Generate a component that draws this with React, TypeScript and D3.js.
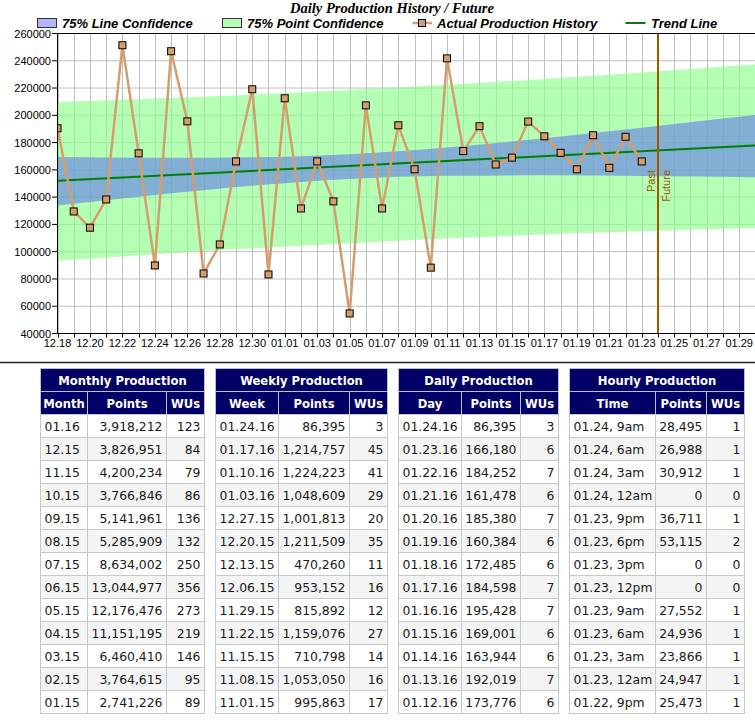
import React from "react";
import * as d3 from "d3";

// daily production history (points per day)
const days = [
  "12.18", "12.19", "12.20", "12.21", "12.22", "12.23", "12.24", "12.25", "12.26", "12.27",
  "12.28", "12.29", "12.30", "12.31", "01.01", "01.02", "01.03", "01.04", "01.05", "01.06",
  "01.07", "01.08", "01.09", "01.10", "01.11", "01.12", "01.13", "01.14", "01.15", "01.16",
  "01.17", "01.18", "01.19", "01.20", "01.21", "01.22", "01.23",
];
const points = [
  190500, 129500, 117600, 138300, 251400, 172100, 89900, 247000, 195600, 84000,
  105300, 166200, 219100, 83300, 212500, 131700, 166200, 136900, 54700, 207300,
  131700, 192700, 160400, 88300, 241755, 173776, 192019, 163944, 169001, 195428,
  184598, 172485, 160384, 185380, 161478, 184252, 166180,
];

// confidence bands, read at a few dates
const bandDays = ["12.18", "12.24", "12.30", "01.05", "01.11", "01.17", "01.23", "01.30"];
const lineUpper = [169350, 168830, 169200, 171460, 176400, 183230, 190950, 200200];
const lineLower = [133850, 141570, 148400, 153340, 155600, 155970, 155450, 154600];
const pointUpper = [209800, 212260, 215170, 218540, 222370, 226660, 231400, 237450];
const pointLower = [93400, 98140, 102430, 106260, 109630, 112540, 115000, 117350];

const trendDays = ["12.18", "01.30"];
const trendValues = [152000, 177900];
const nowDay = "01.24";
const firstDay = "12.18";
const lastDay = "01.30";
const yTicks = [40000, 60000, 80000, 100000, 120000, 140000, 160000, 180000, 200000, 220000, 240000, 260000];

// tables
const months = ["01.16", "12.15", "11.15", "10.15", "09.15", "08.15", "07.15", "06.15", "05.15", "04.15", "03.15", "02.15", "01.15"];
const monthlyPoints = [3918212, 3826951, 4200234, 3766846, 5141961, 5285909, 8634002, 13044977, 12176476, 11151195, 6460410, 3764615, 2741226];
const monthlyWUs = [123, 84, 79, 86, 136, 132, 250, 356, 273, 219, 146, 95, 89];

const weeks = ["01.24.16", "01.17.16", "01.10.16", "01.03.16", "12.27.15", "12.20.15", "12.13.15", "12.06.15", "11.29.15", "11.22.15", "11.15.15", "11.08.15", "11.01.15"];
const weeklyPoints = [86395, 1214757, 1224223, 1048609, 1001813, 1211509, 470260, 953152, 815892, 1159076, 710798, 1053050, 995863];
const weeklyWUs = [3, 45, 41, 29, 20, 35, 11, 16, 12, 27, 14, 16, 17];

const dailyDays = ["01.24.16", "01.23.16", "01.22.16", "01.21.16", "01.20.16", "01.19.16", "01.18.16", "01.17.16", "01.16.16", "01.15.16", "01.14.16", "01.13.16", "01.12.16"];
const dailyPoints = [86395, 166180, 184252, 161478, 185380, 160384, 172485, 184598, 195428, 169001, 163944, 192019, 173776];
const dailyWUs = [3, 6, 7, 6, 7, 6, 6, 7, 7, 6, 6, 7, 6];

const hours = ["01.24, 9am", "01.24, 6am", "01.24, 3am", "01.24, 12am", "01.23, 9pm", "01.23, 6pm", "01.23, 3pm", "01.23, 12pm", "01.23, 9am", "01.23, 6am", "01.23, 3am", "01.23, 12am", "01.22, 9pm"];
const hourlyPoints = [28495, 26988, 30912, 0, 36711, 53115, 0, 0, 27552, 24936, 23866, 24947, 25473];
const hourlyWUs = [1, 1, 1, 0, 1, 2, 0, 0, 1, 1, 1, 1, 1];

const parseDay = (s: string) => {
  const [m, d] = s.split(".").map(Number);
  return new Date(m === 12 ? 2015 : 2016, m - 1, d);
};

const fmt = d3.format(",");
const SANS = "'Liberation Sans', Arial, sans-serif";
const VERDANA = "'DejaVu Sans', Verdana, sans-serif";

interface TableProps {
  edges: number[];
  title: string;
  headers: string[];
  labels: string[];
  values: number[];
  wus: number[];
}

const ProdTable: React.FC<TableProps> = ({ edges, title, headers, labels, values, wus }) => {
  const top = 368.5;
  const rowH = 23;
  const x0 = edges[0];
  const x1 = edges[edges.length - 1];
  const rows = labels.map((l, i) => [l, fmt(values[i]), String(wus[i])]);
  return (
    <g>
      <rect x={x0} y={top} width={x1 - x0} height={rowH} fill="#000066" stroke="#c0c0c0" />
      <text x={(x0 + x1) / 2} y={top + 16.5} textAnchor="middle" fill="#fff" fontWeight="bold" fontSize={11.6} fontFamily={VERDANA}>
        {title}
      </text>
      {headers.map((h, j) => (
        <g key={h}>
          <rect x={edges[j]} y={top + rowH} width={edges[j + 1] - edges[j]} height={rowH} fill="#000066" stroke="#c0c0c0" />
          <text x={(edges[j] + edges[j + 1]) / 2} y={top + rowH + 16.5} textAnchor="middle" fill="#fff" fontWeight="bold" fontSize={11.6} fontFamily={VERDANA}>
            {h}
          </text>
        </g>
      ))}
      {rows.map((r, i) => {
        const ry = top + rowH * (i + 2);
        return (
          <g key={i}>
            {r.map((c, j) => (
              <g key={j}>
                <rect x={edges[j]} y={ry} width={edges[j + 1] - edges[j]} height={rowH} fill={i % 2 ? "#f4f4f4" : "#ffffff"} stroke="#c8c8c8" />
                <text
                  x={j === 0 ? edges[j] + 4 : edges[j + 1] - 4}
                  y={ry + 16.8}
                  textAnchor={j === 0 ? "start" : "end"}
                  fill="#1a1a1a"
                  fontSize={12.4}
                  fontFamily={VERDANA}
                >
                  {c}
                </text>
              </g>
            ))}
          </g>
        );
      })}
    </g>
  );
};

export default function App() {
  const W = 755;
  const H = 720;
  const plotLeft = 57.5;
  const plotTop = 33.5;
  const plotBottom = 333.5;

  const x = d3
    .scaleTime()
    .domain([parseDay(firstDay), parseDay(lastDay)])
    .range([plotLeft, plotLeft + 43 * 16.23]);
  const y = d3.scaleLinear().domain([40000, 260000]).range([plotBottom, plotTop]);

  const allDays = d3.timeDay.range(parseDay(firstDay), d3.timeDay.offset(parseDay(lastDay), 1));
  const labelDays = d3.timeDay.range(parseDay(firstDay), parseDay(lastDay), 2);
  const fmtDay = d3.timeFormat("%m.%d");

  const band = (upper: number[], lower: number[]) =>
    d3
      .area<number>()
      .x((i) => x(parseDay(bandDays[i])))
      .y0((i) => y(lower[i]))
      .y1((i) => y(upper[i]))
      .curve(d3.curveMonotoneX)(bandDays.map((_, i) => i)) || "";

  const prodLine =
    d3
      .line<number>()
      .x((i) => x(parseDay(days[i])))
      .y((i) => y(points[i]))(days.map((_, i) => i)) || "";

  const trendLine =
    d3
      .line<number>()
      .x((i) => x(parseDay(trendDays[i])))
      .y((i) => y(trendValues[i]))(trendDays.map((_, i) => i)) || "";

  const xNow = x(parseDay(nowDay));
  const brown = "#9e5800";
  const tan = "#d49e6c";

  return (
    <>
      <style>{"body{margin:0}"}</style>
      <svg width={W} height={H} style={{ display: "block" }}>
        <defs>
          <clipPath id="plot">
            <rect x={plotLeft} y={plotTop} width={W - plotLeft} height={plotBottom - plotTop} />
          </clipPath>
        </defs>
        <rect width={W} height={H} fill="#fff" />

        <g clipPath="url(#plot)">
          {allDays.map((d) => (
            <line key={+d} x1={Math.round(x(d)) + 0.5} x2={Math.round(x(d)) + 0.5} y1={plotTop} y2={plotBottom} stroke="#c0c0c0" />
          ))}
          {yTicks.map((t) => (
            <line key={t} x1={plotLeft} x2={W} y1={y(t)} y2={y(t)} stroke="#c0c0c0" />
          ))}
          <path d={band(pointUpper, pointLower)} fill="#8cff8c" fillOpacity={0.65} />
          <path d={band(lineUpper, lineLower)} fill="#6a84e6" fillOpacity={0.65} />
          <path d={trendLine} fill="none" stroke="#008000" strokeWidth={2} />
          <path d={prodLine} fill="none" stroke={tan} strokeWidth={2.5} />
          {days.map((d, i) => (
            <rect key={d} x={x(parseDay(d)) - 3.5} y={y(points[i]) - 3.5} width={7} height={7} fill={tan} stroke="#000" strokeWidth={1} />
          ))}
          <line x1={xNow} x2={xNow} y1={plotTop} y2={plotBottom} stroke={brown} strokeWidth={2} />
        </g>

        <text transform={`translate(${xNow - 3},170) rotate(-90)`} textAnchor="end" fill={brown} fontSize={11} fontFamily={SANS}>
          Past
        </text>
        <text transform={`translate(${xNow + 12},170) rotate(-90)`} textAnchor="end" fill={brown} fontSize={11} fontFamily={SANS}>
          Future
        </text>

        {/* axes */}
        <line x1={52} x2={W} y1={plotTop} y2={plotTop} stroke="#000" />
        <line x1={plotLeft} x2={plotLeft} y1={plotTop} y2={plotBottom} stroke="#000" />
        <line x1={plotLeft} x2={W} y1={plotBottom} y2={plotBottom} stroke="#000" />
        {yTicks.map((t) => (
          <g key={t}>
            <line x1={52} x2={plotLeft} y1={y(t)} y2={y(t)} stroke="#000" />
            <text x={51} y={y(t) + 4} textAnchor="end" fontSize={11} fontFamily={SANS} fill="#000">
              {t}
            </text>
          </g>
        ))}
        {allDays.map((d) => (
          <line key={+d} x1={Math.round(x(d)) + 0.5} x2={Math.round(x(d)) + 0.5} y1={plotBottom} y2={plotBottom + 4} stroke="#000" />
        ))}
        {labelDays.map((d) => (
          <text key={+d} x={x(d)} y={347} textAnchor="middle" fontSize={11} fontFamily={SANS} fill="#000">
            {fmtDay(d)}
          </text>
        ))}

        {/* title + legend */}
        <text x={392} y={13} textAnchor="middle" fontSize={14.5} fontWeight="bold" fontStyle="italic" fontFamily="'Liberation Serif', 'Times New Roman', serif">
          Daily Production History / Future
        </text>
        <g fontSize={13} fontWeight="bold" fontStyle="italic" fontFamily={SANS}>
          <rect x={37.5} y={18.5} width={19} height={9} fill="#b4b4ff" stroke="#333" />
          <text x={62} y={28}>75% Line Confidence</text>
          <rect x={222.5} y={18.5} width={19} height={9} fill="#b4ffb4" stroke="#333" />
          <text x={247} y={28}>75% Point Confidence</text>
          <line x1={412.5} x2={432} y1={23} y2={23} stroke={tan} strokeWidth={2.5} />
          <rect x={418.5} y={19.5} width={7} height={7} fill={tan} stroke="#000" />
          <text x={437} y={28}>Actual Production History</text>
          <line x1={625.5} x2={645.5} y1={23} y2={23} stroke="#008000" strokeWidth={2} />
          <text x={651} y={28}>Trend Line</text>
        </g>

        <line x1={0} x2={W} y1={362.5} y2={362.5} stroke="#222" strokeWidth={1.5} />

        <ProdTable edges={[40.5, 87.5, 166.5, 204.5]} title="Monthly Production" headers={["Month", "Points", "WUs"]} labels={months} values={monthlyPoints} wus={monthlyWUs} />
        <ProdTable edges={[215.5, 278.5, 349.5, 387.5]} title="Weekly Production" headers={["Week", "Points", "WUs"]} labels={weeks} values={weeklyPoints} wus={weeklyWUs} />
        <ProdTable edges={[398.5, 461.5, 520.5, 558.5]} title="Daily Production" headers={["Day", "Points", "WUs"]} labels={dailyDays} values={dailyPoints} wus={dailyWUs} />
        <ProdTable edges={[569.5, 655.5, 706.5, 744.5]} title="Hourly Production" headers={["Time", "Points", "WUs"]} labels={hours} values={hourlyPoints} wus={hourlyWUs} />
      </svg>
    </>
  );
}
